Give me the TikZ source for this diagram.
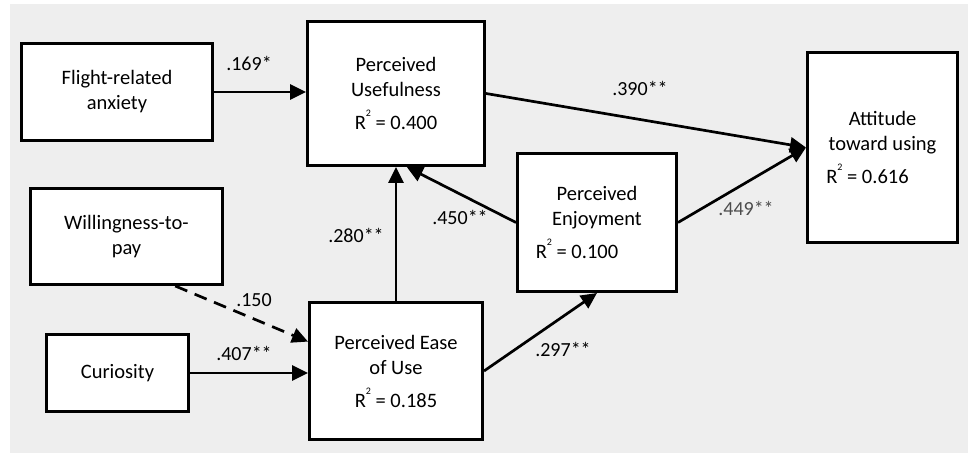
\documentclass[tikz,border=0pt]{standalone}
\usepackage{fontspec}
\setmainfont{Carlito}
\usepackage{tikz}
\usetikzlibrary{arrows.meta,positioning,calc}
\definecolor{panel}{RGB}{238,238,238}
\newcommand{\rsquared}[1]{R\raisebox{6.5pt}{\fontsize{5}{5}\selectfont 2}\ = #1}
\tikzset{
  construct/.style={draw=black, line width=1.5pt, fill=white, align=center, inner sep=2pt,
    font=\fontsize{10.25}{12.5}\selectfont},
  link/.style={draw=black, line width=1.35pt, -{Triangle[length=8pt,width=7.5pt]}},
  dashedlink/.style={link, dash pattern=on 6.5pt off 4pt},
  coef/.style={font=\fontsize{10}{12}\selectfont, inner sep=1pt}
}
\begin{document}
\begin{tikzpicture}[x=0.5pt, y=-0.5pt]
  \useasboundingbox (0,0) rectangle (968,454);
  \fill[panel] (10,4) rectangle (968,453);
  % constructs
  \node[construct, minimum width=95.5pt, minimum height=48.5pt] (fa) at (117,92) {Flight-related\\anxiety};
  \node[construct, minimum width=96pt, minimum height=48pt] (wtp) at (126.5,236.5) {Willingness-to-\\pay};
  \node[construct, minimum width=71pt, minimum height=38.5pt] (cur) at (117.5,373) {Curiosity};
  \node[construct, minimum width=88.5pt, minimum height=72pt] (pu) at (396,93.5)
    {Perceived\\Usefulness\\[4pt]\rsquared{0.400}};
  \node[construct, minimum width=86.5pt, minimum height=68.5pt] (peou) at (396,371)
    {Perceived Ease\\of Use\\[4pt]\rsquared{0.185}};
  \node[construct, minimum width=79.5pt, minimum height=69pt] (pe) at (597,222.5)
    {Perceived\\Enjoyment\\[4pt]\rsquared{0.100}\hspace*{20pt}};
  \node[construct, minimum width=75pt, minimum height=95pt] (att) at (882.5,147.5)
    {Attitude\\toward using\\[4pt]\rsquared{0.616}\hspace*{15pt}};
  % paths
  \draw[link] (fa.east) -- (fa.east -| pu.west);
  \draw[link] (cur.east) -- (cur.east -| peou.west);
  \draw[dashedlink] ($(wtp.south west)!0.75!(wtp.south east)$) -- ($(peou.north west)!0.29!(peou.south west)$);
  \draw[link] (peou.north) -- (pu.south);
  \draw[link] (pe.west) -- ($(pu.south west)!0.56!(pu.south east)$);
  \draw[link] (peou.east) -- (pe.south);
  \draw[link] (pu.east) -- (att.west);
  \draw[link] (pe.east) -- (att.west);
  % coefficients
  \node[coef] (c169) at (249,63) {.169*};
  \node[coef] (c390) at (640,88) {.390**};
  \node[coef, text=black!70] (c449) at (746,208) {.449**};
  \node[coef] (c450) at (460,217) {.450**};
  \node[coef] (c280) at (356,235) {.280**};
  \node[coef] (c297) at (563,349) {.297**};
  \node[coef] (c150) at (254,300) {.150};
  \node[coef] (c407) at (244,353) {.407**};
\end{tikzpicture}
\end{document}
